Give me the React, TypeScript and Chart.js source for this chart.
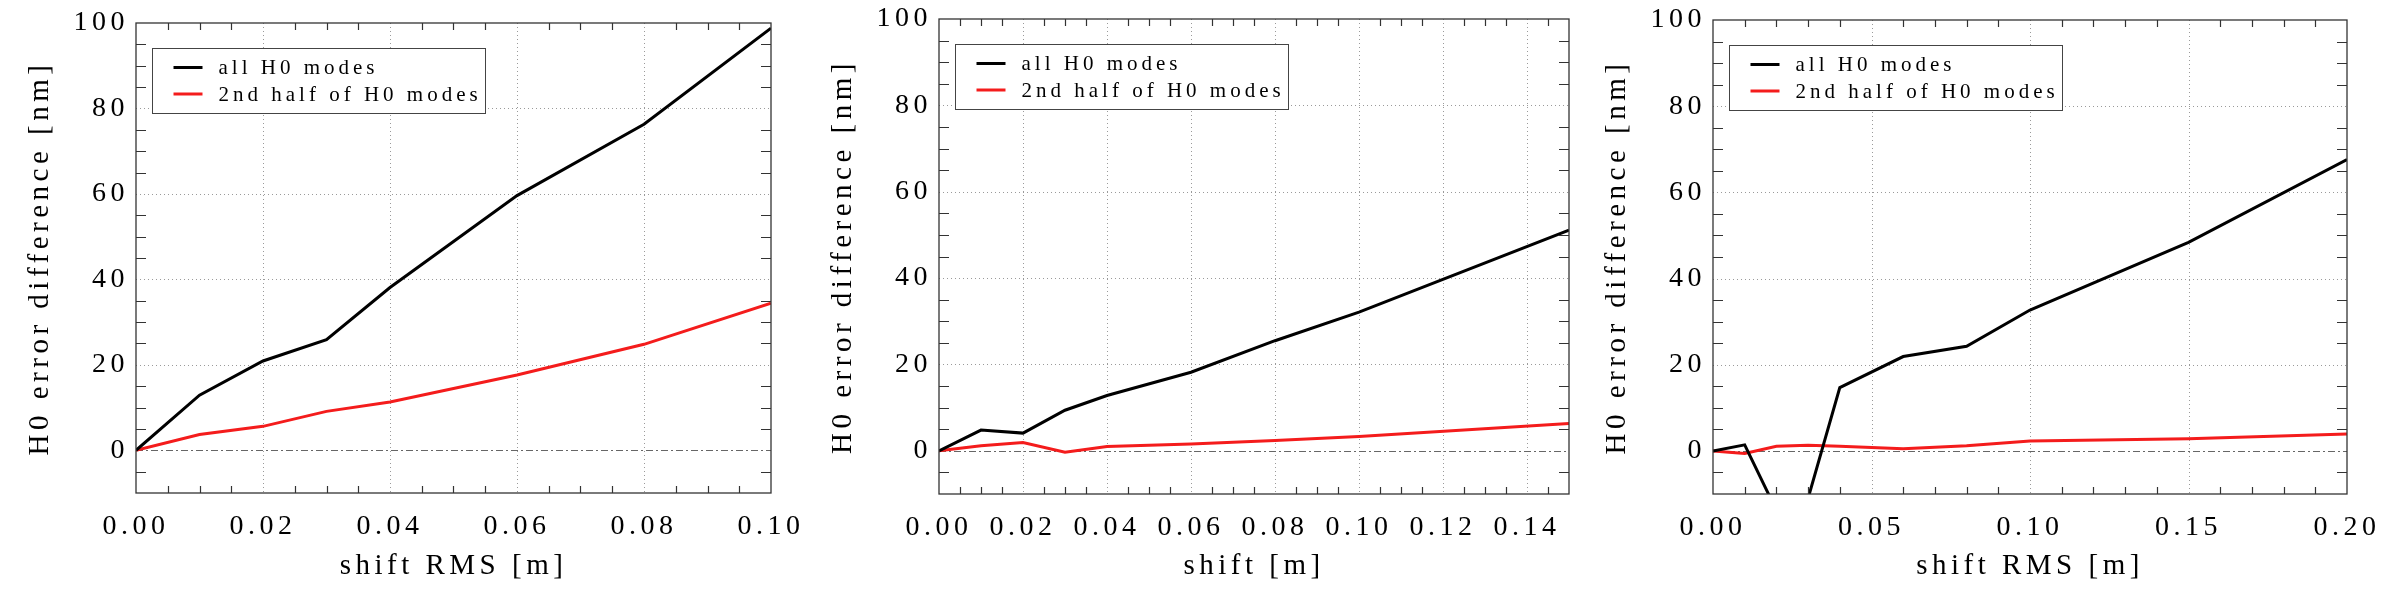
import { useEffect, useRef } from "react"
import { Chart, registerables } from "chart.js"

Chart.register(...registerables)

// left panel: shift RMS
const shiftRms1 = [0, 0.01, 0.02, 0.03, 0.04, 0.06, 0.08, 0.1]
const allModes1 = [0, 12.9, 20.9, 25.9, 38.1, 59.6, 76.3, 98.8]
const halfModes1 = [0, 3.7, 5.6, 9.1, 11.3, 17.6, 24.8, 34.4]

// middle panel: shift
const shift2 = [0, 0.01, 0.02, 0.03, 0.04, 0.06, 0.08, 0.1, 0.15]
const allModes2 = [0, 4.8, 4.1, 9.4, 12.8, 18.2, 25.5, 32.1, 51.1]
const halfModes2 = [0, 1.2, 1.9, -0.3, 1.0, 1.6, 2.4, 3.3, 6.3]

// right panel: shift RMS
const shiftRms3 = [0, 0.01, 0.02, 0.03, 0.04, 0.06, 0.08, 0.1, 0.15, 0.2]
const allModes3 = [0, 1.4, -13.8, -11, 14.7, 21.9, 24.3, 32.7, 48.4, 67.6]
const halfModes3 = [0, -0.6, 1.1, 1.3, 1.1, 0.5, 1.2, 2.3, 2.8, 3.9]

const seriesNames = ["all H0 modes", "2nd half of H0 modes"]
const seriesColors = ["#000000", "#f41c1c"]
const yTitle = "H0 error difference [nm]"

const FONT = "'Liberation Serif', 'Times New Roman', serif"
const SPACING = "4.5px"
const H = 604

const isMultiple = (v: number, step: number) => Math.abs(v / step - Math.round(v / step)) < 1e-6

// IDL-style box: inward minor ticks on all sides, dotted grid at majors, dash-dot zero line, boxed legend
const idlPlugin = {
  id: "idl",
  beforeUpdate(chart: any) {
    chart.ctx.letterSpacing = SPACING
  },
  beforeDraw(chart: any) {
    chart.ctx.letterSpacing = SPACING
  },
  beforeDatasetsDraw(chart: any, _args: any, opts: any) {
    const { ctx, chartArea: a, scales } = chart
    const x = scales.x
    const y = scales.y
    ctx.save()
    ctx.lineWidth = 1
    ctx.strokeStyle = "#9a9a9a"
    ctx.setLineDash([1, 3])
    for (let v = opts.xMajor; v < x.max - 1e-9; v += opts.xMajor) {
      const px = Math.round(x.getPixelForValue(v)) + 0.5
      ctx.beginPath()
      ctx.moveTo(px, a.top)
      ctx.lineTo(px, a.bottom)
      ctx.stroke()
    }
    for (let v = opts.yMajor; v < y.max - 1e-9; v += opts.yMajor) {
      const py = Math.round(y.getPixelForValue(v)) + 0.5
      ctx.beginPath()
      ctx.moveTo(a.left, py)
      ctx.lineTo(a.right, py)
      ctx.stroke()
    }
    // zero line
    ctx.strokeStyle = "#666"
    ctx.setLineDash([7, 3, 2, 3])
    const py0 = Math.round(y.getPixelForValue(0)) + 0.5
    ctx.beginPath()
    ctx.moveTo(a.left, py0)
    ctx.lineTo(a.right, py0)
    ctx.stroke()
    ctx.restore()
  },
  afterDatasetsDraw(chart: any, _args: any, opts: any) {
    const { ctx, chartArea: a, scales } = chart
    const x = scales.x
    const y = scales.y
    ctx.save()
    ctx.strokeStyle = "#333"
    ctx.lineWidth = 1.3
    ctx.setLineDash([])
    ctx.strokeRect(a.left, a.top, a.right - a.left, a.bottom - a.top)
    ctx.lineWidth = 1.2
    ctx.beginPath()
    for (let v = x.min + opts.xMinor; v < x.max - 1e-9; v += opts.xMinor) {
      if (isMultiple(v, opts.xMajor)) continue
      const px = Math.round(x.getPixelForValue(v)) + 0.5
      ctx.moveTo(px, a.bottom)
      ctx.lineTo(px, a.bottom - 7)
      ctx.moveTo(px, a.top)
      ctx.lineTo(px, a.top + 7)
    }
    for (let v = y.min + opts.yMinor; v < y.max - 1e-9; v += opts.yMinor) {
      if (isMultiple(v, opts.yMajor)) continue
      const py = Math.round(y.getPixelForValue(v)) + 0.5
      ctx.moveTo(a.left, py)
      ctx.lineTo(a.left + 10, py)
      ctx.moveTo(a.right, py)
      ctx.lineTo(a.right - 10, py)
    }
    ctx.stroke()

    // legend
    const sets = chart.data.datasets
    ctx.font = `21px ${FONT}`
    ctx.letterSpacing = "4px"
    const textW = Math.max(...sets.map((d: any) => ctx.measureText(d.label).width))
    const bx = Math.round(a.left + 16) + 0.5
    const by = Math.round(a.top + 25) + 0.5
    const bw = Math.round(66 + textW + 4)
    const bh = 65
    ctx.fillStyle = "#fff"
    ctx.fillRect(bx, by, bw, bh)
    ctx.strokeStyle = "#444"
    ctx.lineWidth = 1
    ctx.strokeRect(bx, by, bw, bh)
    ctx.textBaseline = "middle"
    ctx.textAlign = "left"
    sets.forEach((d: any, i: number) => {
      const ly = by + 19 + i * 26.5
      ctx.strokeStyle = d.borderColor
      ctx.lineWidth = 3
      ctx.beginPath()
      ctx.moveTo(bx + 21, ly)
      ctx.lineTo(bx + 50, ly)
      ctx.stroke()
      ctx.fillStyle = "#000"
      ctx.fillText(d.label, bx + 66, ly + 1)
    })
    ctx.restore()
  },
}

interface PanelProps {
  shift: number[]
  all: number[]
  half: number[]
  xMax: number
  xMajor: number
  xMinor: number
  xTitle: string
  left: number
  width: number
  area: { left: number; top: number; right: number; bottom: number }
  yTitleGap: number
}

function Panel({ shift, all, half, xMax, xMajor, xMinor, xTitle, left, width, area, yTitleGap }: PanelProps) {
  const chartRef = useRef<HTMLCanvasElement>(null)
  const chartInstance = useRef<Chart | null>(null)

  useEffect(() => {
    if (!chartRef.current) return
    if (chartInstance.current) chartInstance.current.destroy()
    const ctx = chartRef.current.getContext("2d")
    if (!ctx) return

    const series = [all, half]
    chartInstance.current = new Chart(ctx, {
      type: "line",
      data: {
        datasets: series.map((vals, i) => ({
          label: seriesNames[i],
          data: shift.map((s, j) => ({ x: s, y: vals[j] })),
          borderColor: seriesColors[i],
          backgroundColor: seriesColors[i],
          borderWidth: 3,
          pointRadius: 0,
          tension: 0,
        })),
      },
      plugins: [idlPlugin],
      options: {
        responsive: false,
        animation: false,
        devicePixelRatio: 1,
        layout: { padding: { left: 0, top: area.top, right: width - area.right, bottom: 0 } },
        plugins: {
          legend: { display: false },
          tooltip: { enabled: false },
          idl: { xMajor, xMinor, yMajor: 20, yMinor: 5 },
        } as any,
        scales: {
          x: {
            type: "linear",
            min: 0,
            max: xMax,
            grid: { display: false, drawTicks: false },
            border: { display: false },
            ticks: {
              stepSize: xMajor,
              includeBounds: false,
              autoSkip: false,
              maxRotation: 0,
              padding: 17,
              color: "#000",
              font: { family: FONT, size: 28 },
              callback: (v: any) => (isMultiple(Number(v), xMajor) ? Number(v).toFixed(2) : ""),
            },
            title: {
              display: true,
              text: xTitle,
              color: "#000",
              font: { family: FONT, size: 29 },
              padding: { top: 0, bottom: 20 },
            },
            afterFit: (scale: any) => {
              scale.height = H - area.bottom
              scale.paddingLeft = 0
              scale.paddingRight = 0
            },
          },
          y: {
            type: "linear",
            min: -10,
            max: 100,
            grid: { display: false, drawTicks: false },
            border: { display: false },
            ticks: {
              stepSize: 20,
              padding: 7,
              color: "#000",
              font: { family: FONT, size: 28 },
              callback: (v: any) => (isMultiple(Number(v), 20) ? String(Math.round(Number(v))) : ""),
            },
            title: {
              display: true,
              text: yTitle,
              color: "#000",
              font: { family: FONT, size: 29 },
              padding: { top: yTitleGap, bottom: 0 },
            },
            afterFit: (scale: any) => {
              scale.width = area.left
              scale.paddingTop = 0
              scale.paddingBottom = 0
            },
          },
        },
      },
    })

    return () => {
      if (chartInstance.current) {
        chartInstance.current.destroy()
        chartInstance.current = null
      }
    }
  }, [shift, all, half, xMax, xMajor, xMinor, xTitle, width, area, yTitleGap])

  return (
    <canvas
      ref={chartRef}
      width={width}
      height={H}
      style={{ position: "absolute", left, top: 0, width, height: H, display: "block" }}
    />
  )
}

const area1 = { left: 136, top: 23, right: 771, bottom: 493 }
const area2 = { left: 139, top: 19, right: 769, bottom: 494 }
const area3 = { left: 113, top: 20, right: 747, bottom: 494 }

export default function App() {
  return (
    <div
      style={{
        position: "absolute",
        left: 0,
        top: 0,
        width: 2400,
        height: H,
        overflow: "hidden",
        background: "#fff",
      }}
    >
      <Panel
        shift={shiftRms1}
        all={allModes1}
        half={halfModes1}
        xMax={0.1}
        xMajor={0.02}
        xMinor={0.005}
        xTitle="shift RMS [m]"
        left={0}
        width={830}
        area={area1}
        yTitleGap={23}
      />
      <Panel
        shift={shift2}
        all={allModes2}
        half={halfModes2}
        xMax={0.15}
        xMajor={0.02}
        xMinor={0.005}
        xTitle="shift [m]"
        left={800}
        width={830}
        area={area2}
        yTitleGap={26}
      />
      <Panel
        shift={shiftRms3}
        all={allModes3}
        half={halfModes3}
        xMax={0.2}
        xMajor={0.05}
        xMinor={0.01}
        xTitle="shift RMS [m]"
        left={1600}
        width={800}
        area={area3}
        yTitleGap={0}
      />
    </div>
  )
}
